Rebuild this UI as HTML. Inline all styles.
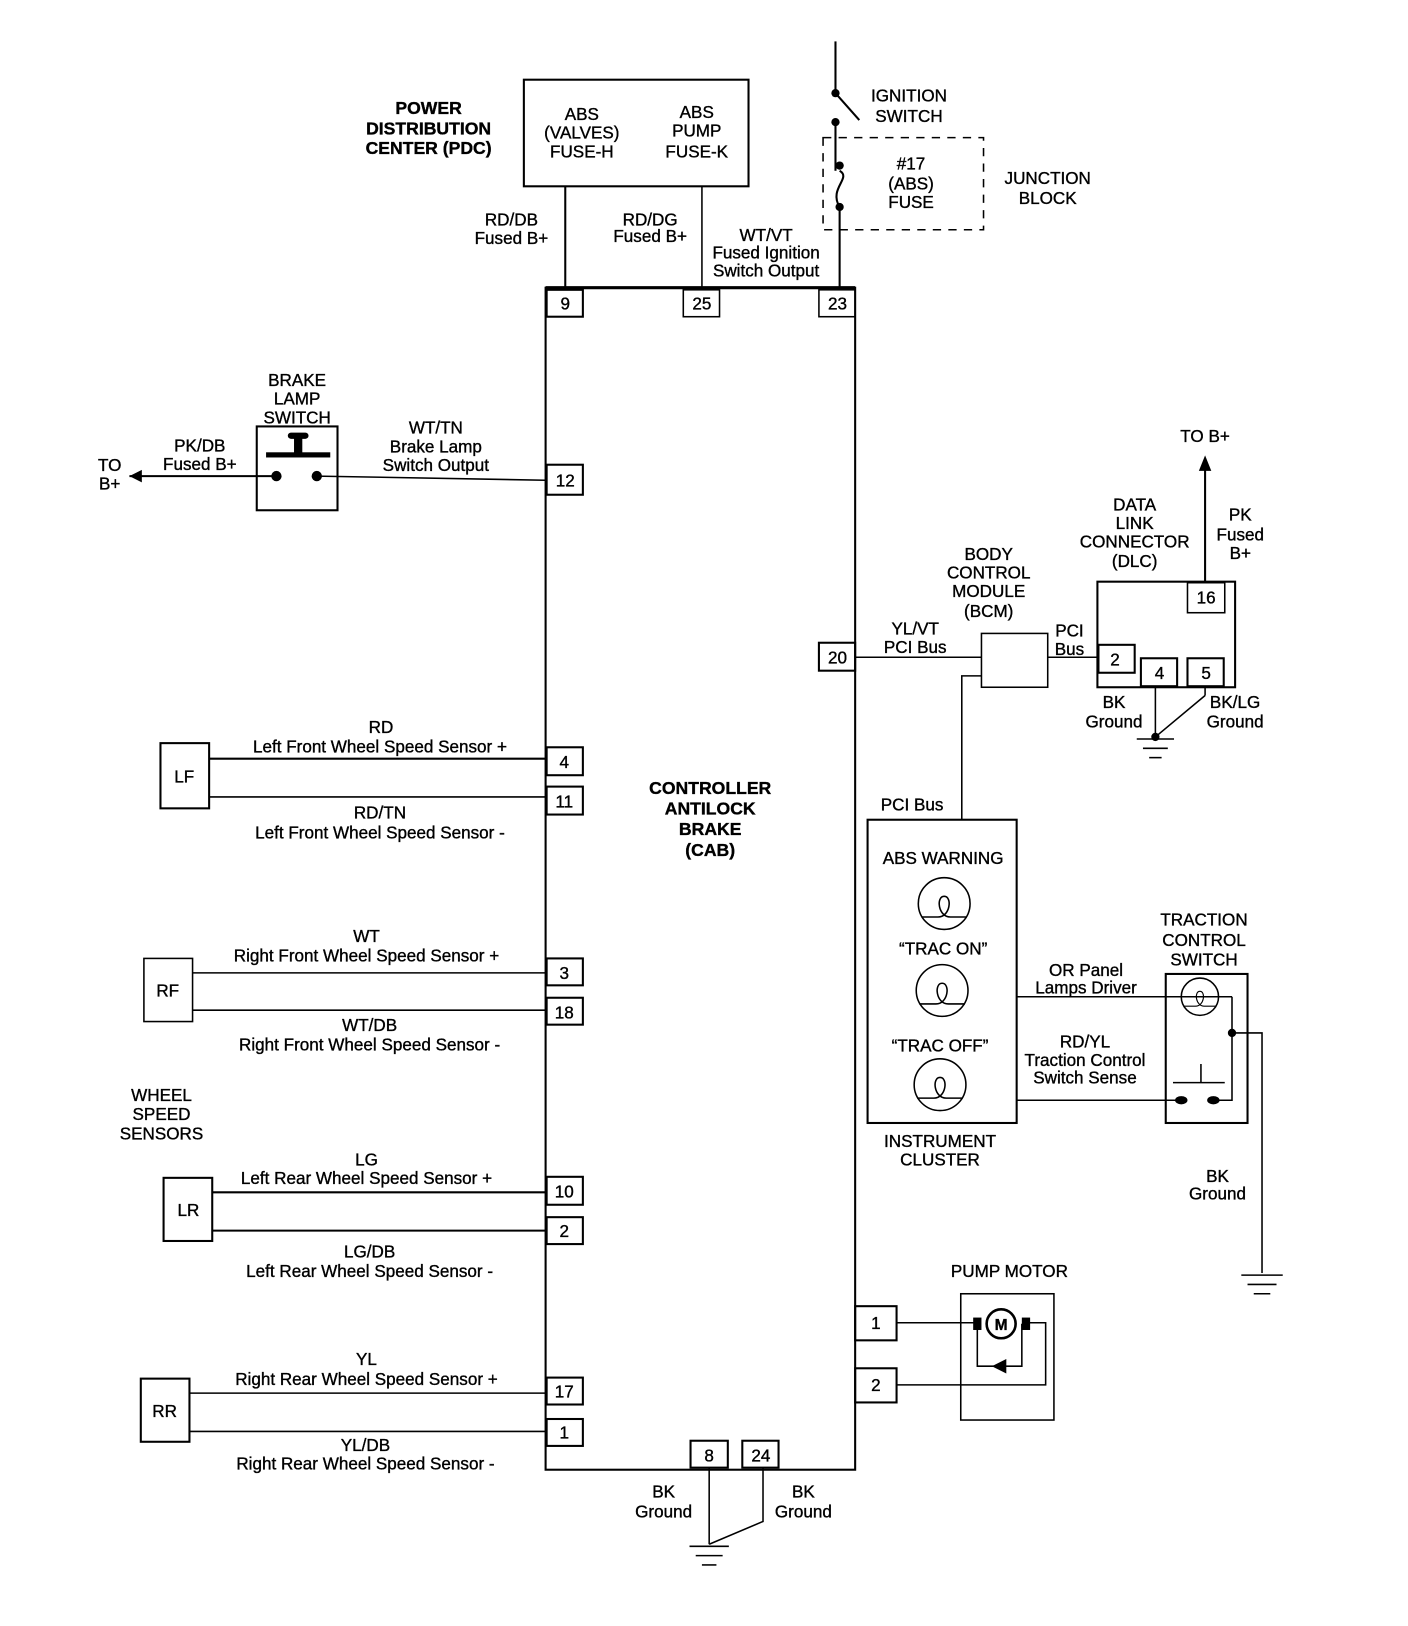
<!DOCTYPE html>
<html><head><meta charset="utf-8"><style>
html,body{margin:0;padding:0;background:#fff;}
svg{display:block}
text{font-family:"Liberation Sans",Arial,sans-serif;font-size:16.5px;text-anchor:middle;fill:#000;stroke:#000;stroke-width:0.35}
.b{font-weight:bold;font-size:17px}
</style></head><body>
<svg width="1408" height="1626" viewBox="0 0 1360 1571" preserveAspectRatio="none" xmlns="http://www.w3.org/2000/svg">
<defs>
<g id="fil"><path d="M-22 10 L-6 10 C6 10 8 -10 0 -10 C-8 -10 -6 10 6 10 L22 10" fill="none" stroke="#000" stroke-width="1.5"/></g>
</defs>
<g stroke="#000" fill="none" stroke-width="2">
<rect x="506" y="77" width="217" height="103"/>
<line x1="546" y1="180" x2="546" y2="278"/>
<line x1="678" y1="180" x2="678" y2="278" stroke-width="1.5"/>
<line x1="807" y1="40" x2="807" y2="88"/>
<line x1="807" y1="90" x2="830" y2="116"/>
<line x1="807" y1="118" x2="807" y2="165"/>
<path d="M811 165 C823 172 800 182 811 200"/>
<line x1="811" y1="200" x2="811" y2="278"/>
<rect x="795" y="133" width="155" height="89" stroke-dasharray="8,7" stroke-width="1.5"/>
<rect x="527" y="278" width="299" height="1142"/>
<line x1="527" y1="278" x2="826" y2="278" stroke-width="3"/>
<rect x="528" y="280" width="35" height="26"/>
<rect x="660" y="280" width="35" height="26" stroke-width="1.5"/>
<rect x="791" y="280" width="35" height="26" stroke-width="1.5"/>
<rect x="248" y="412" width="78" height="81"/>
<line x1="125" y1="460" x2="267" y2="460"/>
<line x1="306" y1="460" x2="527" y2="464" stroke-width="1.5"/>
<rect x="528" y="449" width="35" height="29"/>
<rect x="791" y="621" width="35" height="27"/>
<line x1="826" y1="635" x2="948" y2="635" stroke-width="1.5"/>
<rect x="948" y="612" width="64" height="52" stroke-width="1.5"/>
<line x1="1012" y1="635" x2="1061" y2="635" stroke-width="1.5"/>
<rect x="1060" y="562" width="133" height="102"/>
<rect x="1147" y="563" width="36" height="29" stroke-width="1.5"/>
<rect x="1061" y="623" width="35" height="27"/>
<rect x="1102" y="636" width="35" height="27"/>
<rect x="1147" y="636" width="35" height="27"/>
<line x1="1164" y1="562" x2="1164" y2="448"/>
<line x1="1116" y1="663" x2="1116" y2="712" stroke-width="1.5"/>
<line x1="1164" y1="663" x2="1164" y2="672" stroke-width="1.5"/>
<line x1="1164" y1="672" x2="1116" y2="712" stroke-width="1.5"/>
<line x1="1098" y1="714" x2="1134" y2="714" stroke-width="1.5"/>
<line x1="1104" y1="723" x2="1128" y2="723" stroke-width="1.5"/>
<line x1="1110" y1="732" x2="1122" y2="732" stroke-width="1.5"/>
<polyline points="948,653 929,653 929,792" stroke-width="1.5"/>
<rect x="838" y="792" width="144" height="293"/>
<circle cx="912" cy="873" r="25" stroke-width="1.5"/>
<circle cx="910" cy="957" r="25" stroke-width="1.5"/>
<circle cx="908" cy="1048" r="25" stroke-width="1.5"/>
<rect x="1126" y="941" width="79" height="144"/>
<circle cx="1159" cy="963" r="18" stroke-width="1.5"/>
<line x1="982" y1="963" x2="1190" y2="963" stroke-width="1.5"/>
<line x1="982" y1="1063" x2="1141" y2="1063" stroke-width="1.5"/>
<polyline points="1172,1063 1190,1063 1190,963" stroke-width="1.5"/>
<polyline points="1190,998 1219,998 1219,1230" stroke-width="1.5"/>
<line x1="1133" y1="1046" x2="1183" y2="1046" stroke-width="1.5"/>
<line x1="1160" y1="1028" x2="1160" y2="1046" stroke-width="1.5"/>
<line x1="1199" y1="1232" x2="1239" y2="1232" stroke-width="1.5"/>
<line x1="1205" y1="1241" x2="1233" y2="1241" stroke-width="1.5"/>
<line x1="1211" y1="1250" x2="1227" y2="1250" stroke-width="1.5"/>
<rect x="928" y="1250" width="90" height="122" stroke-width="1.5"/>
<rect x="826" y="1262" width="40" height="33"/>
<rect x="826" y="1322" width="40" height="33"/>
<line x1="866" y1="1278" x2="942" y2="1278" stroke-width="1.5"/>
<polyline points="866,1338 1010,1338 1010,1278 994,1278" stroke-width="1.5"/>
<circle cx="967" cy="1279" r="14" stroke-width="2.5"/>
<polyline points="944,1279 944,1320 987,1320 987,1279" stroke-width="1.5"/>
<rect x="155" y="718" width="47" height="63"/>
<line x1="202" y1="733" x2="527" y2="733"/><line x1="202" y1="770" x2="527" y2="770" stroke-width="1.5"/>
<rect x="528" y="722" width="35" height="27"/><rect x="528" y="760" width="35" height="27"/>
<rect x="139" y="926" width="47" height="61" stroke-width="1.5"/>
<line x1="186" y1="940" x2="527" y2="940" stroke-width="1.5"/><line x1="186" y1="976" x2="527" y2="976" stroke-width="1.5"/>
<rect x="528" y="926" width="35" height="26"/><rect x="528" y="964" width="35" height="26"/>
<rect x="158" y="1138" width="47" height="61"/>
<line x1="205" y1="1152" x2="527" y2="1152"/><line x1="205" y1="1189" x2="527" y2="1189"/>
<rect x="528" y="1137" width="35" height="27"/><rect x="528" y="1176" width="35" height="26"/>
<rect x="136" y="1332" width="47" height="61"/>
<line x1="183" y1="1346" x2="527" y2="1346" stroke-width="1.5"/><line x1="183" y1="1383" x2="527" y2="1383" stroke-width="1.5"/>
<rect x="528" y="1331" width="35" height="26"/><rect x="528" y="1371" width="35" height="26"/>
<rect x="667" y="1392" width="36" height="26"/>
<rect x="717" y="1392" width="35" height="26"/>
<line x1="685" y1="1418" x2="685" y2="1492" stroke-width="1.5"/>
<polyline points="737,1418 737,1470 685,1492" stroke-width="1.5"/>
<line x1="666" y1="1494" x2="704" y2="1494" stroke-width="1.5"/>
<line x1="672" y1="1503" x2="698" y2="1503" stroke-width="1.5"/>
<line x1="678" y1="1512" x2="692" y2="1512" stroke-width="1.5"/>
</g>
<use href="#fil" x="912" y="876"/>
<use href="#fil" x="910" y="960"/>
<use href="#fil" x="908" y="1051"/>
<g transform="translate(1159,965) scale(0.72)"><use href="#fil"/></g>
<g fill="#000">
<circle cx="807" cy="90" r="4"/><circle cx="807" cy="118" r="4"/>
<circle cx="811" cy="160" r="4"/><circle cx="811" cy="200" r="4"/>
<circle cx="267" cy="460" r="5"/><circle cx="306" cy="460" r="5"/>
<rect x="257" y="437" width="62" height="5"/><rect x="284" y="422" width="8" height="16"/><rect x="278" y="418" width="20" height="6" rx="3"/>
<polygon points="125,460 137,454 137,466"/>
<polygon points="1164,440 1158,455 1170,455"/>
<circle cx="1116" cy="712" r="4"/>
<circle cx="1190" cy="998" r="4"/>
<ellipse cx="1141" cy="1063" rx="6" ry="4"/><ellipse cx="1172" cy="1063" rx="6" ry="4"/>
<rect x="940" y="1273" width="8" height="12"/><rect x="987" y="1273" width="8" height="12"/>
<polygon points="958,1320 972,1313 972,1327"/>
</g>
<g>
<text class="b" x="414" y="110">POWER</text><text class="b" x="414" y="130">DISTRIBUTION</text><text class="b" x="414" y="149">CENTER (PDC)</text>
<text x="562" y="116">ABS</text><text x="562" y="134">(VALVES)</text><text x="562" y="152">FUSE-H</text>
<text x="673" y="114">ABS</text><text x="673" y="132">PUMP</text><text x="673" y="152">FUSE-K</text>
<text x="494" y="218">RD/DB</text><text x="494" y="236">Fused B+</text>
<text x="628" y="218">RD/DG</text><text x="628" y="234">Fused B+</text>
<text x="740" y="233">WT/VT</text><text x="740" y="250">Fused Ignition</text><text x="740" y="267">Switch Output</text>
<text x="878" y="98">IGNITION</text><text x="878" y="118">SWITCH</text>
<text x="880" y="164">#17</text><text x="880" y="183">(ABS)</text><text x="880" y="201">FUSE</text>
<text x="1012" y="178">JUNCTION</text><text x="1012" y="197">BLOCK</text>
<text x="546" y="299">9</text><text x="678" y="299">25</text><text x="809" y="299">23</text>
<text x="287" y="373">BRAKE</text><text x="287" y="391">LAMP</text><text x="287" y="409">SWITCH</text>
<text x="193" y="436">PK/DB</text><text x="193" y="454">Fused B+</text>
<text x="106" y="455">TO</text><text x="106" y="473">B+</text>
<text x="421" y="419">WT/TN</text><text x="421" y="437">Brake Lamp</text><text x="421" y="455">Switch Output</text>
<text x="546" y="470">12</text>
<text x="1164" y="427">TO B+</text>
<text x="1198" y="503">PK</text><text x="1198" y="522">Fused</text><text x="1198" y="540">B+</text>
<text x="1096" y="493">DATA</text><text x="1096" y="511">LINK</text><text x="1096" y="529">CONNECTOR</text><text x="1096" y="548">(DLC)</text>
<text x="955" y="541">BODY</text><text x="955" y="559">CONTROL</text><text x="955" y="577">MODULE</text><text x="955" y="596">(BCM)</text>
<text x="884" y="613">YL/VT</text><text x="884" y="631">PCI Bus</text>
<text x="1033" y="615">PCI</text><text x="1033" y="633">Bus</text>
<text x="809" y="641">20</text><text x="1165" y="583">16</text><text x="1077" y="643">2</text><text x="1120" y="656">4</text><text x="1165" y="656">5</text>
<text x="1076" y="684">BK</text><text x="1076" y="703">Ground</text>
<text x="1193" y="684">BK/LG</text><text x="1193" y="703">Ground</text>
<text x="881" y="783">PCI Bus</text>
<text x="911" y="835">ABS WARNING</text>
<text x="911" y="922">“TRAC ON”</text><text x="908" y="1016">“TRAC OFF”</text>
<text x="908" y="1108">INSTRUMENT</text><text x="908" y="1126">CLUSTER</text>
<text x="1163" y="894">TRACTION</text><text x="1163" y="914">CONTROL</text><text x="1163" y="933">SWITCH</text>
<text x="1049" y="943">OR Panel</text><text x="1049" y="960">Lamps Driver</text>
<text x="1048" y="1012">RD/YL</text><text x="1048" y="1030">Traction Control</text><text x="1048" y="1047">Switch Sense</text>
<text x="1176" y="1142">BK</text><text x="1176" y="1159">Ground</text>
<text x="975" y="1234">PUMP MOTOR</text>
<text x="846" y="1284">1</text><text x="846" y="1344">2</text>
<text x="967" y="1285" style="font-weight:bold;font-size:15px">M</text>
<text class="b" x="686" y="767">CONTROLLER</text><text class="b" x="686" y="787">ANTILOCK</text><text class="b" x="686" y="807">BRAKE</text><text class="b" x="686" y="827">(CAB)</text>
<text x="178" y="756">LF</text><text x="162" y="963">RF</text><text x="182" y="1175">LR</text><text x="159" y="1369">RR</text>
<text x="368" y="708">RD</text><text x="367" y="727">Left Front Wheel Speed Sensor +</text>
<text x="367" y="791">RD/TN</text><text x="367" y="810">Left Front Wheel Speed Sensor -</text>
<text x="354" y="910">WT</text><text x="354" y="929">Right Front Wheel Speed Sensor +</text>
<text x="357" y="996">WT/DB</text><text x="357" y="1015">Right Front Wheel Speed Sensor -</text>
<text x="156" y="1064">WHEEL</text><text x="156" y="1082">SPEED</text><text x="156" y="1101">SENSORS</text>
<text x="354" y="1126">LG</text><text x="354" y="1144">Left Rear Wheel Speed Sensor +</text>
<text x="357" y="1215">LG/DB</text><text x="357" y="1234">Left Rear Wheel Speed Sensor -</text>
<text x="354" y="1319">YL</text><text x="354" y="1338">Right Rear Wheel Speed Sensor +</text>
<text x="353" y="1402">YL/DB</text><text x="353" y="1420">Right Rear Wheel Speed Sensor -</text>
<text x="545" y="742">4</text><text x="545" y="780">11</text><text x="545" y="946">3</text><text x="545" y="984">18</text>
<text x="545" y="1157">10</text><text x="545" y="1195">2</text><text x="545" y="1350">17</text><text x="545" y="1390">1</text>
<text x="685" y="1412">8</text><text x="735" y="1412">24</text>
<text x="641" y="1447">BK</text><text x="641" y="1466">Ground</text>
<text x="776" y="1447">BK</text><text x="776" y="1466">Ground</text>
</g>
</svg>
</body></html>
